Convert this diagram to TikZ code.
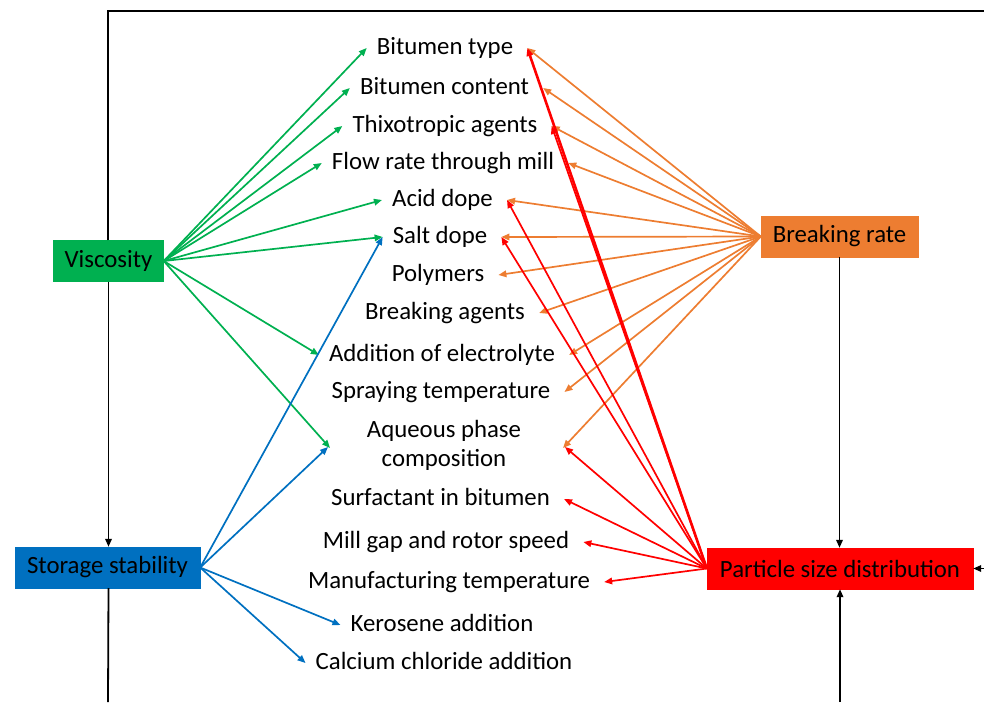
\documentclass[tikz,border=0pt]{standalone}
\usepackage{fontspec}
\setmainfont{Carlito}
\usetikzlibrary{arrows.meta}
\definecolor{cgreen}{HTML}{00B050}
\definecolor{cblue}{HTML}{0070C0}
\definecolor{corange}{HTML}{ED7D31}
\definecolor{cred}{HTML}{FF0000}
\begin{document}
\begin{tikzpicture}[x=1pt,y=-1pt,
  font=\fontsize{24.8}{28}\selectfont,
  lbl/.style={inner sep=0pt, anchor=base, text height=17pt, text depth=5pt},
  box/.style={inner sep=0pt, minimum height=41pt, text=black},
  tip/.style={-{Triangle[length=8pt,width=6.5pt]}},
  garr/.style={tip, draw=cgreen, line width=1.7pt},
  barr/.style={tip, draw=cblue, line width=1.7pt},
  oarr/.style={tip, draw=corange, line width=1.7pt},
  rarr/.style={tip, draw=cred, line width=1.7pt},
  karr/.style={tip, draw=black, line width=1.8pt},
  kline/.style={draw=black, line width=1.8pt}]
\useasboundingbox (0,0) rectangle (984,702);

% frame
\coordinate (tl) at (108,11);
\coordinate (tr) at (984,11);
\coordinate (bl) at (108,702);
\coordinate (br0) at (840,702);
\coordinate (re) at (984,568.5);

% main boxes
\node[box, fill=cgreen, draw=cgreen, minimum width=110pt] (vis) at (108.5,261) {Viscosity};
\node[box, fill=cblue, draw=cblue, minimum width=185pt] (sto) at (107.5,567.5) {Storage stability};
\node[box, fill=corange, draw=corange, minimum width=157pt] (brk) at (839.5,236.5) {Breaking rate};
\node[box, fill=cred, draw=cred, minimum width=266pt] (psd) at (840,568.5) {Particle size distribution};

% labels
\node[lbl] (n1) at (445,54) {Bitumen type};
\node[lbl] (n2) at (444.5,94) {Bitumen content};
\node[lbl] (n3) at (445,132) {Thixotropic agents};
\node[lbl] (n4) at (443,169) {Flow rate through mill};
\node[lbl] (n5) at (442.5,206) {Acid dope};
\node[lbl] (n6) at (440,243) {Salt dope};
\node[lbl] (n7) at (438,281) {Polymers};
\node[lbl] (n8) at (445,319) {Breaking agents};
\node[lbl] (n9) at (442,361) {Addition of electrolyte};
\node[lbl] (n10) at (441,398) {Spraying temperature};
\node[inner sep=0pt, align=center, font=\fontsize{24.8}{29}\selectfont] (aq) at (444,445) {Aqueous phase\\composition};
\node[lbl] (n11) at (440.5,505) {Surfactant in bitumen};
\node[lbl] (n12) at (446,548) {Mill gap and rotor speed};
\node[lbl] (n13) at (449,588) {Manufacturing temperature};
\node[lbl] (n14) at (442,631) {Kerosene addition};
\node[lbl] (n15) at (444,669) {Calcium chloride addition};

% black frame connectors
\draw[kline] (vis.north -| tl) -- (tl) -- (tr);
\draw[karr] (vis.south) -- (vis.south |- sto.north);
\draw[kline] (sto.south -| vis.south) -- (bl);
\draw[karr] (brk.south) -- (brk.south |- psd.north);
\draw[karr] (br0) -- (psd.south);
\draw[karr] (re) -- (psd.east);

% green (viscosity)
\foreach \n in {n1,n2,n3,n4,n5,n6,n9}
  \draw[garr] (vis.east) -- ([xshift=-10pt]\n.west);
\draw[garr] (vis.east) -- ([xshift=-114pt,yshift=-3pt]aq.center);

% blue (storage stability)
\draw[barr] (sto.east) -- ([xshift=-10pt]n6.west);
\draw[barr] (sto.east) -- ([xshift=-116pt,yshift=-2pt]aq.center);
\draw[barr] (sto.east) -- ([xshift=-10pt]n14.west);
\draw[barr] (sto.east) -- ([xshift=-10pt]n15.west);

% orange (breaking rate)
\foreach \n in {n1,n2,n3,n4,n5,n6,n7,n8,n9,n10}
  \draw[oarr] (brk.west) -- ([xshift=14pt]\n.east);
\draw[oarr] (brk.west) -- ([xshift=119pt,yshift=-3pt]aq.center);

% red (particle size distribution)
\draw[rarr, line width=2.6pt] (psd.west) -- ([xshift=14pt]n1.east);
\foreach \n in {n3,n5,n6,n11,n12,n13}
  \draw[rarr] (psd.west) -- ([xshift=14pt]\n.east);
\draw[rarr] (psd.west) -- ([xshift=121pt,yshift=-2pt]aq.center);
\end{tikzpicture}
\end{document}
